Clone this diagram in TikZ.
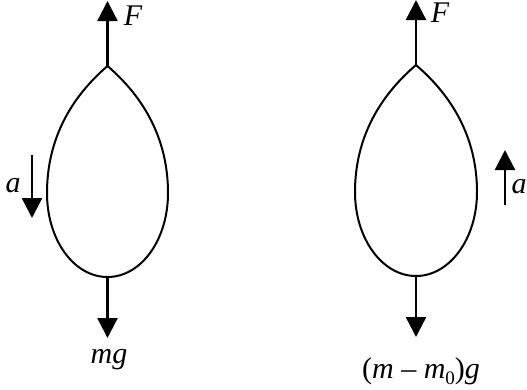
\documentclass[tikz,border=0pt]{standalone}
\usepackage{fontspec}
\setmainfont{Liberation Serif}
\usetikzlibrary{arrows.meta}
\newcommand{\subz}{\raisebox{-0.2em}{\fontsize{19}{20}\selectfont\upshape 0}}
\begin{document}
\begin{tikzpicture}[x=1pt,y=-1pt,
  balloon/.style={line width=2pt},
  force/.style={line width=2.4pt,-{Triangle[width=20pt,length=20pt]}},
  lbl/.style={anchor=base,inner sep=0pt,font=\fontsize{30}{34}\selectfont\itshape}]
\useasboundingbox (0,0) rectangle (527,389);
% left balloon
\coordinate (Ltop) at (107.5,66);
\coordinate (Lbot) at (107.5,277);
\draw[balloon] (Ltop) .. controls (82,88) and (47,128) .. (47,193)
  .. controls (47,240) and (74,277) .. (Lbot)
  .. controls (141,277) and (168,240) .. (168,193)
  .. controls (168,128) and (133,88) .. (Ltop);
\coordinate (LFtip) at (107.5,1);
\coordinate (Lgtip) at (107.5,338);
\draw[force] (Ltop) -- (LFtip);
\draw[force] (Lbot) -- (Lgtip);
\node[lbl] (LF) at (133,25) {F};
\node[lbl] (Lmg) at (109,363) {mg};
\coordinate (Lastart) at (32,155);
\coordinate (Laend) at (32,218);
\draw[force] (Lastart) -- (Laend);
\node[lbl] (La) at (13,192) {a};
% right balloon
\coordinate (Rtop) at (416,65);
\coordinate (Rbot) at (416,276);
\draw[balloon] (Rtop) .. controls (390.5,87) and (355,127) .. (355,192)
  .. controls (355,239) and (382.5,276) .. (Rbot)
  .. controls (449.5,276) and (477,239) .. (477,192)
  .. controls (477,127) and (441.5,87) .. (Rtop);
\coordinate (RFtip) at (416,0);
\coordinate (Rgtip) at (416,337);
\draw[force] (Rtop) -- (RFtip);
\draw[force] (Rbot) -- (Rgtip);
\node[lbl] (RF) at (440,22) {F};
\node[lbl] (Rmg) at (421,378) {{\upshape(}m {\upshape –} m\subz{\upshape)}g};
\coordinate (Rastart) at (505,205);
\coordinate (Raend) at (505,150);
\draw[force] (Rastart) -- (Raend);
\node[lbl] (Ra) at (519,193) {a};
\end{tikzpicture}
\end{document}
